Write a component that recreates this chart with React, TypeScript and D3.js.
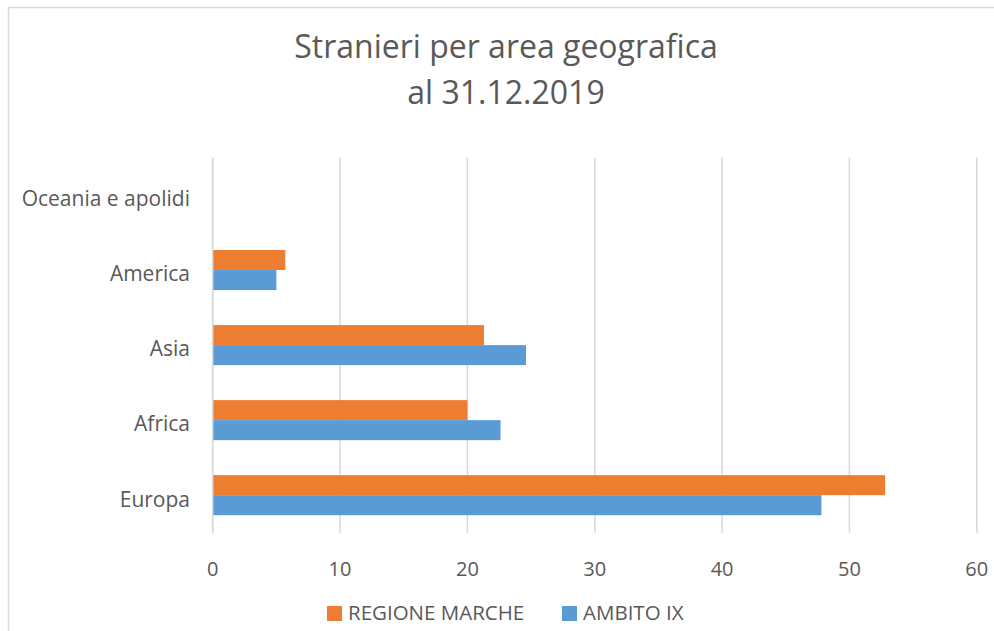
import { useEffect, useRef } from "react";
import * as d3 from "d3";

const categories = ["Europa", "Africa", "Asia", "America", "Oceania e apolidi"];
const seriesNames = ["REGIONE MARCHE", "AMBITO IX"];
const regioneMarche = [52.8, 20.0, 21.3, 5.7, 0];
const ambitoIX = [47.8, 22.6, 24.6, 5.0, 0];
const xTicks = [0, 10, 20, 30, 40, 50, 60];
const colors = ["#ED7D31", "#5B9BD5"];

const App = () => {
  const svgRef = useRef<SVGSVGElement>(null);

  useEffect(() => {
    if (!svgRef.current) return;
    const svg = d3.select(svgRef.current);
    svg.selectAll("*").remove();

    const font = "'Open Sans', 'Noto Sans', sans-serif";
    const textColor = "#595959";

    // chart frame
    svg
      .append("rect")
      .attr("x", 8.5)
      .attr("y", 7.5)
      .attr("width", 1000)
      .attr("height", 700)
      .attr("fill", "#fff")
      .attr("stroke", "#D9D9D9")
      .attr("stroke-width", 1.5);

    // title
    const title = svg
      .append("text")
      .attr("text-anchor", "middle")
      .attr("font-family", font)
      .attr("font-size", 32)
      .attr("fill", textColor);
    title.append("tspan").attr("x", 506).attr("y", 58).text("Stranieri per area geografica");
    title.append("tspan").attr("x", 506).attr("y", 104).text("al 31.12.2019");

    const x = d3.scaleLinear().domain([0, 60]).range([212.7, 976.8]);
    // categories drawn bottom to top
    const y = d3
      .scaleBand()
      .domain(categories)
      .range([532.7, 157.5])
      .paddingInner(0.4666)
      .paddingOuter(0.2333);
    const sub = d3
      .scaleBand()
      .domain(seriesNames)
      .range([0, y.bandwidth()]);

    // gridlines
    svg
      .selectAll("line.grid")
      .data(xTicks)
      .enter()
      .append("line")
      .attr("class", "grid")
      .attr("x1", (d) => x(d))
      .attr("x2", (d) => x(d))
      .attr("y1", 157.5)
      .attr("y2", 532.7)
      .attr("stroke", "#D9D9D9")
      .attr("stroke-width", 1.5);

    // bars
    const series = [regioneMarche, ambitoIX];
    series.forEach((vals, si) => {
      svg
        .selectAll(`rect.s${si}`)
        .data(vals)
        .enter()
        .append("rect")
        .attr("class", `s${si}`)
        .attr("x", x(0))
        .attr("y", (_, i) => (y(categories[i]) as number) + (sub(seriesNames[si]) as number))
        .attr("width", (d) => x(d) - x(0))
        .attr("height", sub.bandwidth())
        .attr("fill", colors[si]);
    });

    // axis line at zero
    svg
      .append("line")
      .attr("x1", x(0))
      .attr("x2", x(0))
      .attr("y1", 157.5)
      .attr("y2", 532.7)
      .attr("stroke", "#D9D9D9")
      .attr("stroke-width", 1.5);

    // category labels
    svg
      .selectAll("text.cat")
      .data(categories)
      .enter()
      .append("text")
      .attr("class", "cat")
      .attr("x", 190)
      .attr("y", (d) => (y(d) as number) + y.bandwidth() / 2 + 4)
      .attr("dy", "0.35em")
      .attr("text-anchor", "end")
      .attr("font-family", font)
      .attr("font-size", 21)
      .attr("fill", textColor)
      .text((d) => d);

    // tick labels
    svg
      .selectAll("text.tick")
      .data(xTicks)
      .enter()
      .append("text")
      .attr("class", "tick")
      .attr("x", (d) => x(d))
      .attr("y", 576)
      .attr("text-anchor", "middle")
      .attr("font-family", font)
      .attr("font-size", 20)
      .attr("fill", textColor)
      .text((d) => d);

    // legend
    const legendX = [327, 562];
    seriesNames.forEach((name, i) => {
      svg
        .append("rect")
        .attr("x", legendX[i])
        .attr("y", 606)
        .attr("width", 15)
        .attr("height", 15)
        .attr("fill", colors[i]);
      svg
        .append("text")
        .attr("x", legendX[i] + 21)
        .attr("y", 620)
        .attr("font-family", font)
        .attr("font-size", 20.5)
        .attr("fill", textColor)
        .text(name);
    });
  }, []);

  return (
    <svg
      ref={svgRef}
      width={994}
      height={631}
      style={{ position: "fixed", left: 0, top: 0, background: "#fff" }}
    ></svg>
  );
};

export default App;
